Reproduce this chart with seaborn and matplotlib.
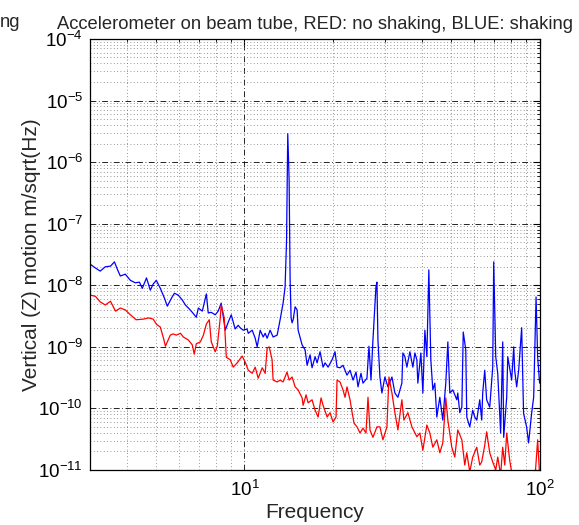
import numpy as np
import pandas as pd
import matplotlib
matplotlib.use("Agg")
import matplotlib.pyplot as plt
import seaborn as sns
from matplotlib.ticker import LogLocator, NullFormatter

# Frequencies in Hz, amplitudes as log10(m/sqrt(Hz))
freq_blue = [3.01, 3.13, 3.25, 3.38, 3.52, 3.63, 3.72, 3.80, 3.95, 4.11,
             4.27, 4.41, 4.51, 4.66, 4.80, 4.91, 5.03, 5.19, 5.36, 5.48,
             5.66, 5.79, 5.97, 6.16, 6.31, 6.46, 6.66, 6.87, 6.98, 7.20,
             7.43, 7.54, 7.72, 7.96, 8.15, 8.34, 8.61, 8.81, 9.02, 9.30,
             9.52, 9.67, 9.90, 10.2, 10.3, 10.62, 10.87, 11.04, 11.30, 11.57,
             11.75, 11.93, 12.21, 12.50, 12.90, 13.20, 13.51, 13.72, 13.88, 14.01,
             14.16, 14.27, 14.38, 14.49, 14.61, 14.84, 15.07, 15.19, 15.67, 16.04,
             16.29, 16.67, 16.93, 17.34, 17.61, 18.02, 18.45, 18.74, 19.18, 19.79,
             20.25, 20.57, 21.05, 21.55, 22.23, 22.76, 23.30, 23.85, 24.22, 24.79,
             25.18, 25.97, 26.38, 26.80, 27.21, 27.85, 28.07, 28.29, 28.73, 29.18,
             29.87, 30.58, 31.55, 32.29, 33.05, 34.09, 34.36, 34.90, 35.45, 36.29,
             37.14, 37.73, 38.31, 38.61, 39.53, 40.15, 40.78, 41.42, 42.06, 42.72,
             43.39, 44.07, 44.76, 45.82, 46.90, 48.0, 48.78, 49.53, 50.70, 52.30,
             52.70, 53.53, 54.40, 55.0, 56.09, 56.53, 57.86, 59.22, 60.15, 61.10,
             62.54, 63.52, 64.0, 65.02, 66.0, 67.60, 69.2, 69.73, 70.84, 71.95,
             73.6, 74.8, 75.37, 77.16, 77.8, 80.2, 81.5, 82.10, 83.4, 84.7,
             86.7, 88.0, 90.1, 91.5, 93.7, 95.2, 97.0, 98.2, 99.7]
log_blue = [-7.66, -7.72, -7.77, -7.70, -7.69, -7.62, -7.75, -7.85, -7.82, -7.92,
            -7.96, -7.95, -8.05, -7.88, -8.08, -7.98, -7.92, -8.05, -8.21, -8.34,
            -8.21, -8.13, -8.16, -8.24, -8.32, -8.37, -8.44, -8.52, -8.37, -8.42,
            -8.14, -8.45, -8.44, -8.48, -8.42, -8.29, -8.73, -8.60, -8.48, -8.71,
            -8.65, -8.69, -8.73, -8.71, -8.78, -8.73, -8.86, -9.00, -8.73, -8.84,
            -8.78, -8.86, -8.73, -8.84, -8.81, -8.56, -8.29, -8.03, -7.27, -5.54,
            -6.29, -7.91, -8.53, -8.61, -8.56, -8.35, -8.40, -8.73, -8.97, -9.05,
            -9.30, -9.13, -9.34, -9.16, -9.26, -9.08, -9.33, -9.26, -9.33, -9.21,
            -9.08, -9.33, -9.34, -9.30, -9.46, -9.38, -9.54, -9.41, -9.65, -9.43,
            -9.59, -9.51, -8.99, -9.54, -8.89, -8.03, -7.95, -8.89, -9.49, -9.75,
            -9.49, -9.65, -9.49, -9.75, -9.82, -9.59, -9.10, -9.16, -9.33, -9.08,
            -9.33, -9.10, -9.21, -9.59, -9.10, -9.75, -8.73, -9.16, -7.75, -9.21,
            -9.70, -9.59, -10.14, -9.82, -10.19, -9.59, -8.92, -9.75, -9.70, -9.86,
            -9.75, -10.07, -9.98, -8.76, -9.05, -10.14, -10.30, -10.03, -10.14, -10.19,
            -9.86, -10.19, -9.75, -9.38, -9.86, -9.98, -9.33, -7.62, -9.16, -9.43,
            -10.40, -8.92, -10.47, -9.82, -9.16, -9.54, -9.00, -9.38, -9.65, -9.38,
            -8.69, -10.08, -10.30, -10.56, -10.08, -9.82, -8.19, -9.16, -9.59]

freq_red = [3.01, 3.13, 3.25, 3.38, 3.52, 3.66, 3.80, 3.95, 4.11, 4.30,
            4.55, 4.73, 4.91, 5.03, 5.19, 5.32, 5.40, 5.61, 5.74, 5.88,
            6.07, 6.21, 6.46, 6.66, 6.76, 6.87, 7.09, 7.26, 7.43, 7.60,
            7.72, 7.96, 8.09, 8.28, 8.34, 8.54, 8.68, 8.95, 9.16, 9.45,
            9.82, 10.06, 10.30, 10.62, 10.87, 11.13, 11.48, 11.75, 11.93, 12.12,
            12.40, 12.50, 12.90, 13.20, 13.51, 13.93, 14.16, 14.49, 14.84, 15.19,
            15.67, 15.79, 16.16, 16.42, 16.93, 17.34, 17.75, 18.16, 18.45, 19.04,
            19.48, 19.94, 20.41, 20.57, 21.05, 21.55, 21.89, 22.23, 22.76, 23.12,
            23.48, 24.04, 24.60, 25.18, 25.77, 26.18, 26.59, 27.21, 28.07, 28.73,
            29.41, 30.34, 30.82, 31.55, 32.29, 33.05, 34.09, 34.63, 35.73, 36.86,
            38.31, 39.22, 40.15, 41.42, 42.39, 43.39, 44.76, 45.82, 46.90, 48.0,
            48.78, 50.3, 51.49, 52.70, 54.40, 55.65, 56.53, 57.86, 59.22, 61.10,
            62.54, 63.5, 65.02, 66.0, 67.60, 69.2, 70.84, 71.95, 73.6, 74.8,
            76.0, 77.16, 78.97, 80.8, 84.0, 86.7, 90.1, 93.7, 96.6, 98.2, 99.7]
log_red = [-8.16, -8.18, -8.27, -8.32, -8.26, -8.42, -8.37, -8.40, -8.48, -8.56,
           -8.55, -8.53, -8.55, -8.63, -8.68, -8.86, -8.99, -8.81, -8.79, -8.81,
           -8.78, -8.84, -8.89, -8.97, -9.12, -8.95, -8.92, -8.81, -8.63, -8.56,
           -8.92, -9.08, -8.99, -8.53, -8.32, -8.53, -9.17, -9.21, -9.33, -9.26,
           -9.15, -9.25, -9.38, -9.43, -9.33, -9.51, -9.34, -9.43, -9.02, -9.00,
           -9.21, -9.54, -9.57, -9.54, -9.57, -9.41, -9.54, -9.49, -9.65, -9.70,
           -9.83, -9.95, -9.78, -9.91, -9.86, -10.03, -10.14, -9.83, -9.95, -10.14,
           -10.07, -10.22, -10.14, -9.54, -9.57, -9.70, -9.82, -9.65, -9.86, -10.06,
           -10.24, -10.30, -10.40, -10.32, -10.40, -9.82, -10.35, -10.47, -10.30, -10.30,
           -10.51, -10.30, -9.49, -9.75, -10.07, -10.35, -9.86, -10.19, -10.07, -10.30,
           -10.46, -10.40, -10.68, -10.27, -10.40, -10.63, -10.51, -10.72, -10.56, -9.83,
           -10.19, -10.63, -10.79, -10.35, -10.51, -10.92, -10.72, -11.03, -10.79, -10.63,
           -10.92, -10.87, -10.60, -10.38, -10.72, -10.87, -11.00, -10.79, -11.08, -10.63,
           -10.92, -10.40, -10.84, -11.13, -11.03, -11.16, -11.05, -11.13, -11.00, -10.51, -11.08]

title_text = "Accelerometer on beam tube, RED: no shaking, BLUE: shaking"

sns.set_style("white")
plt.rcParams["font.family"] = ["Liberation Sans", "DejaVu Sans"]
plt.rcParams["mathtext.fontset"] = "custom"
plt.rcParams["mathtext.rm"] = "Liberation Sans"
plt.rcParams["mathtext.it"] = "Liberation Sans:italic"
plt.rcParams["mathtext.bf"] = "Liberation Sans:bold"

df_blue = pd.DataFrame({"freq": freq_blue, "amp": 10 ** np.array(log_blue)})
df_red = pd.DataFrame({"freq": freq_red, "amp": 10 ** np.array(log_red)})

fig = plt.figure(figsize=(5.79, 5.25), dpi=100)
ax = fig.add_axes([0.1554, 0.1048, 0.7772, 0.821])

sns.lineplot(data=df_blue, x="freq", y="amp", color="#0000ff", lw=0.9,
             estimator=None, ax=ax)
sns.lineplot(data=df_red, x="freq", y="amp", color="#ff0000", lw=0.9,
             estimator=None, ax=ax)

ax.set_xscale("log")
ax.set_yscale("log")
ax.set_xlim(3, 100)
ax.set_ylim(1e-11, 1e-4)

ax.xaxis.set_major_locator(LogLocator(base=10, numticks=10))
ax.xaxis.set_minor_locator(LogLocator(base=10, subs=np.arange(2, 10), numticks=20))
ax.yaxis.set_major_locator(LogLocator(base=10, numticks=12))
ax.yaxis.set_minor_locator(LogLocator(base=10, subs=np.arange(2, 10), numticks=20))
ax.xaxis.set_minor_formatter(NullFormatter())
ax.yaxis.set_minor_formatter(NullFormatter())

ax.grid(which="major", color="black", linestyle=(0, (7, 3, 1, 3)), lw=0.6)
ax.grid(which="minor", color="0.45", linestyle=(0, (1, 3)), lw=0.6)
ax.set_axisbelow(True)

ax.tick_params(which="both", direction="in", top=True, right=True,
               colors="black", labelsize=13.5)
ax.tick_params(which="major", length=5, width=0.8)
ax.tick_params(which="minor", length=2.5, width=0.6)
ax.tick_params(axis="y", pad=5)
ax.tick_params(axis="x", pad=7)

for sp in ax.spines.values():
    sp.set_color("black")
    sp.set_linewidth(0.9)

ax.set_xlabel("Frequency", fontsize=15, labelpad=2)
ax.set_ylabel("Vertical (Z) motion m/sqrt(Hz)", fontsize=15, labelpad=-2)
ax.set_title(title_text, fontsize=13.2, pad=7)
fig.text(0.0, 1 - 27 / 525, "ng", fontsize=13.2, ha="left", va="baseline")

fig.savefig("out.png", dpi=100)
